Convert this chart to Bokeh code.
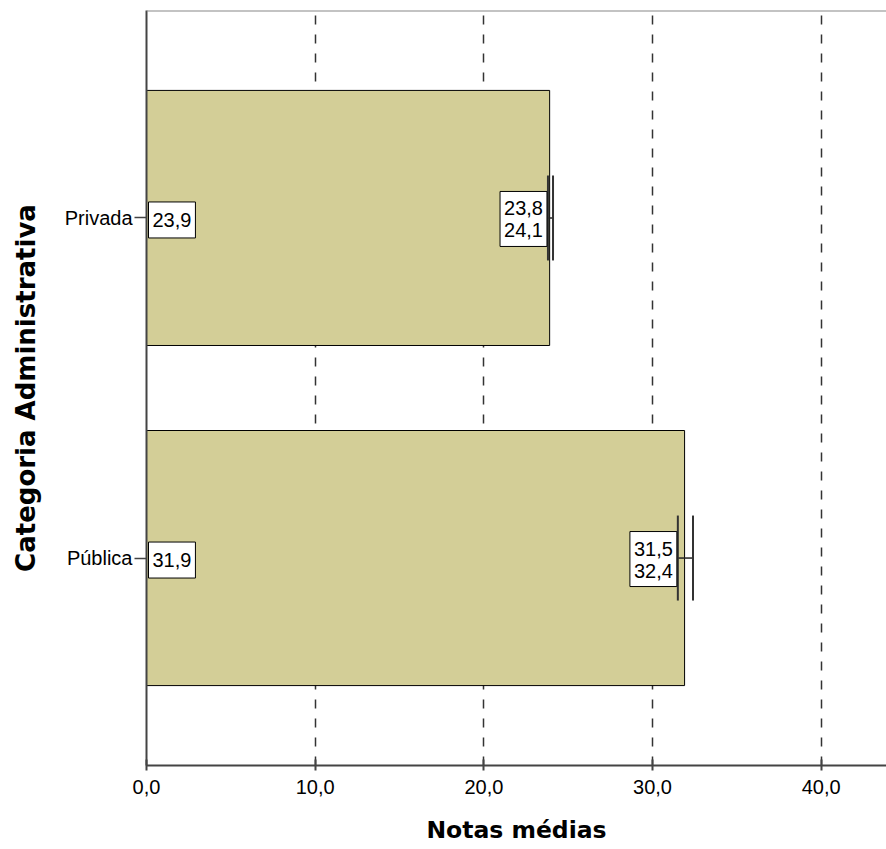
from bokeh.plotting import figure
from bokeh.models import (ColumnDataSource, FactorRange, Range1d, FixedTicker,
                          Whisker, TeeHead, Span)
from bokeh.core.properties import value
from bokeh.embed import file_html
from bokeh.resources import INLINE

# ---- data ----
categories = ["Privada", "Pública"]
means = [23.9, 31.9]
ci_low = [23.8, 31.5]
ci_high = [24.1, 32.4]
x_ticks = [0, 10, 20, 30, 40]
x_tick_labels = ["0,0", "10,0", "20,0", "30,0", "40,0"]

def fmt(v):
    return f"{v:.1f}".replace(".", ",")

source = ColumnDataSource(dict(
    cat=categories,
    mean=means,
    lo=ci_low,
    hi=ci_high,
    zero=[0] * len(categories),
    mean_lab=[fmt(v) for v in means],
    ci_lab=[fmt(a) + "\n" + fmt(b) for a, b in zip(ci_low, ci_high)],
))

TICK_FONT = "Liberation Sans"
LABEL_FONT = "DejaVu Sans"
PAD = 0.11

y_range = FactorRange(factors=list(reversed(categories)), range_padding=PAD)
p = figure(width=886, height=849,
           y_range=y_range,
           x_range=Range1d(0, 43.87),
           output_backend="svg", toolbar_location=None,
           min_border_left=146, min_border_right=0,
           min_border_top=10, min_border_bottom=84)

p.outline_line_color = None
p.background_fill_color = "white"
p.border_fill_color = "white"

# top frame line
top_end = len(categories) * (1 + PAD) - PAD * len(categories) / 2
p.add_layout(Span(location=top_end, dimension="width", line_color="#888888",
                  line_width=2, level="overlay"))

# grid
p.ygrid.grid_line_color = None
p.xgrid.grid_line_color = "#333333"
p.xgrid.grid_line_width = 1.5
p.xgrid.grid_line_dash = "9 10"
p.xaxis.ticker = FixedTicker(ticks=x_ticks)
p.xaxis.major_label_overrides = {t: l for t, l in zip(x_ticks, x_tick_labels)}

# bars
p.hbar(y="cat", left=0, right="mean", height=0.75, source=source,
       fill_color="#D3CE97", line_color="black", line_width=1)

# error bars
p.add_layout(Whisker(source=source, base="cat", lower="lo", upper="hi",
                     dimension="width", line_color="#222222", line_width=1.5,
                     level="annotation",
                     lower_head=TeeHead(size=85, line_color="#333333", line_width=2),
                     upper_head=TeeHead(size=85, line_color="#333333", line_width=2)))

# value labels
pad_single = dict(left=4, right=4, top=11, bottom=11)
pad_multi = dict(left=4, right=4, top=6, bottom=5)
p.text(x="zero", y="cat", text="mean_lab", source=source,
       text_font=value(TICK_FONT), text_font_size="20px", text_color="black",
       text_align="left", text_baseline="middle", x_offset=2, y_offset=2,
       background_fill_color="white", border_line_color="black", border_line_width=1,
       padding=pad_single, level="overlay")
p.text(x="lo", y="cat", text="ci_lab", source=source,
       text_font=value(TICK_FONT), text_font_size="20px", text_color="black",
       text_align="right", text_baseline="middle", x_offset=-1, y_offset=1,
       text_line_height=1.0,
       background_fill_color="white", border_line_color="black", border_line_width=1,
       padding=pad_multi, level="overlay")

# axes styling
for ax in (p.xaxis, p.yaxis):
    ax.axis_line_color = "#444444"
    ax.axis_line_width = 2
    ax.major_tick_line_color = "#444444"
    ax.major_tick_line_width = 2
    ax.minor_tick_line_color = None
    ax.major_label_text_font = TICK_FONT
    ax.major_label_text_font_size = "20px"
    ax.major_label_text_color = "black"
    ax.axis_label_text_font = LABEL_FONT
    ax.axis_label_text_font_style = "bold"
    ax.axis_label_text_color = "black"

p.xaxis.major_tick_in = 6
p.xaxis.major_tick_out = 5
p.xaxis.major_label_standoff = 9
p.xaxis.axis_label = "Notas médias"
p.xaxis.axis_label_text_font_size = "23.5px"
p.xaxis.axis_label_standoff = 19

p.yaxis.major_tick_in = 0
p.yaxis.major_tick_out = 12
p.yaxis.major_tick_line_width = 1.5
p.yaxis.major_label_standoff = 2
p.yaxis.axis_label = "Categoria Administrativa"
p.yaxis.axis_label_text_font_size = "26px"
p.yaxis.axis_label_standoff = 21

open("out.html", "w").write(file_html(p, INLINE))
